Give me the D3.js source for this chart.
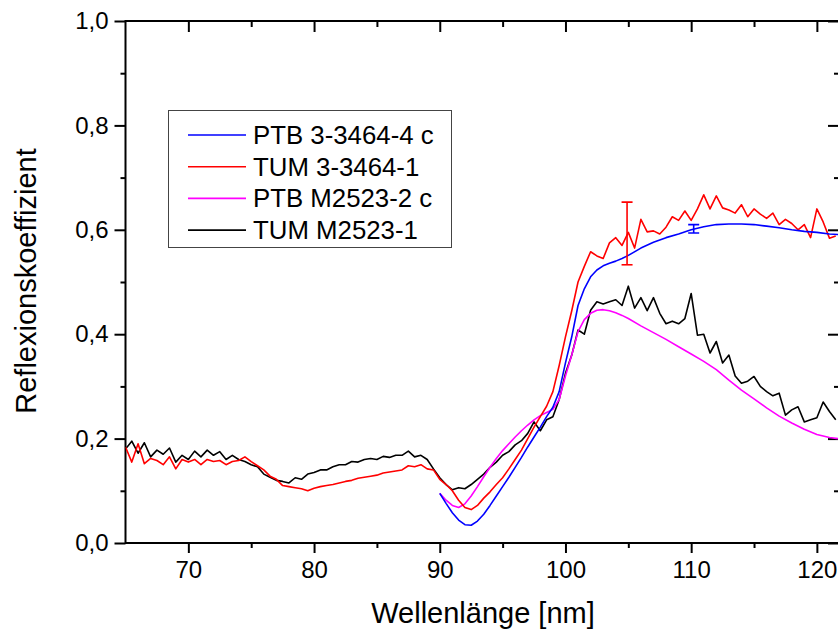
<!DOCTYPE html>
<html>
<head>
<meta charset="utf-8">
<script src="https://cdn.jsdelivr.net/npm/d3@7"></script>
<style>
  body { margin: 0; background: #fff; }
  svg { display: block; font-family: 'Liberation Sans', Arial, sans-serif; }
</style>
</head>
<body>
<div id="chart"></div>
<script>
// wavelength grid of the TUM measurements (nm)
var tumWl = [
  65, 65.5, 66, 66.5, 67, 67.5, 68, 68.5, 69, 69.5,
  70, 70.5, 71, 71.5, 72, 72.5, 73, 73.5, 74, 74.5,
  75, 75.5, 76, 76.5, 77, 77.5, 78, 78.5, 79, 79.5,
  80, 80.5, 81, 81.5, 82, 82.5, 83, 83.5, 84, 84.5,
  85, 85.5, 86, 86.5, 87, 87.5, 88, 88.5, 89, 89.5,
  90, 90.5, 91, 91.5, 92, 92.5, 93, 93.5, 94, 94.5,
  95, 95.5, 96, 96.5, 97, 97.5, 98, 98.5, 99, 99.5,
  100, 100.5, 101, 101.5, 102, 102.5, 103, 103.5, 104, 104.5,
  105, 105.5, 106, 106.5, 107, 107.5, 108, 108.5, 109, 109.5,
  110, 110.5, 111, 111.5, 112, 112.5, 113, 113.5, 114, 114.5,
  115, 115.5, 116, 116.5, 117, 117.5, 118, 118.5, 119, 119.5,
  120, 120.5, 121, 121.5
];

var tum3464 = [
  0.184, 0.155, 0.190, 0.152, 0.162, 0.158, 0.150, 0.165, 0.142, 0.160,
  0.155, 0.160, 0.150, 0.160, 0.156, 0.158, 0.150, 0.156, 0.158, 0.165,
  0.156, 0.148, 0.140, 0.128, 0.122, 0.110, 0.108, 0.106, 0.104, 0.100,
  0.105, 0.108, 0.110, 0.112, 0.115, 0.118, 0.120, 0.124, 0.126, 0.128,
  0.130, 0.134, 0.136, 0.138, 0.140, 0.148, 0.146, 0.150, 0.142, 0.140,
  0.122, 0.112, 0.100, 0.082, 0.068, 0.064, 0.072, 0.086, 0.098, 0.112,
  0.125, 0.142, 0.160, 0.178, 0.200, 0.222, 0.242, 0.262, 0.290, 0.340,
  0.395, 0.445, 0.500, 0.530, 0.558, 0.550, 0.545, 0.575, 0.585, 0.570,
  0.595, 0.565, 0.620, 0.596, 0.598, 0.592, 0.605, 0.625, 0.618, 0.636,
  0.618, 0.640, 0.667, 0.640, 0.665, 0.642, 0.638, 0.632, 0.648, 0.625,
  0.640, 0.630, 0.622, 0.632, 0.610, 0.620, 0.612, 0.600, 0.610, 0.585,
  0.640, 0.615, 0.584, 0.588
];

var tumM2523 = [
  0.180, 0.195, 0.172, 0.192, 0.165, 0.178, 0.170, 0.182, 0.155, 0.168,
  0.160, 0.176, 0.165, 0.178, 0.168, 0.175, 0.160, 0.168, 0.160, 0.156,
  0.150, 0.146, 0.132, 0.126, 0.120, 0.118, 0.115, 0.125, 0.122, 0.132,
  0.135, 0.140, 0.140, 0.146, 0.150, 0.150, 0.156, 0.155, 0.160, 0.162,
  0.160, 0.166, 0.164, 0.168, 0.168, 0.176, 0.165, 0.168, 0.160, 0.142,
  0.125, 0.112, 0.102, 0.106, 0.104, 0.112, 0.122, 0.132, 0.145, 0.155,
  0.168, 0.175, 0.188, 0.196, 0.210, 0.232, 0.215, 0.236, 0.242, 0.275,
  0.325, 0.360, 0.408, 0.400, 0.446, 0.462, 0.458, 0.462, 0.466, 0.455,
  0.492, 0.450, 0.470, 0.445, 0.470, 0.440, 0.420, 0.425, 0.420, 0.430,
  0.478, 0.398, 0.400, 0.364, 0.386, 0.345, 0.360, 0.320, 0.306, 0.310,
  0.319, 0.300, 0.290, 0.282, 0.287, 0.245, 0.255, 0.261, 0.232, 0.236,
  0.240, 0.270, 0.252, 0.236
];

// wavelength grid of the PTB measurements (nm)
var ptbWl = [
  90, 90.5, 91, 91.5, 92, 92.5, 93, 93.5, 94, 94.5,
  95, 95.5, 96, 96.5, 97, 97.5, 98, 98.5, 99, 99.5,
  100, 100.5, 101, 101.5, 102, 102.5, 103, 103.5, 104, 104.5,
  105, 106, 107, 108, 109, 110, 111, 112, 113, 114,
  115, 116, 117, 118, 119, 120, 121, 121.7
];

var ptb3464 = [
  0.095, 0.076, 0.058, 0.044, 0.035, 0.034, 0.042, 0.055, 0.072, 0.090,
  0.108, 0.126, 0.145, 0.164, 0.184, 0.203, 0.222, 0.242, 0.260, 0.290,
  0.345, 0.395, 0.455, 0.487, 0.510, 0.523, 0.531, 0.536, 0.540, 0.545,
  0.551, 0.565, 0.576, 0.585, 0.592, 0.600, 0.606, 0.610, 0.611, 0.611,
  0.610, 0.607, 0.604, 0.600, 0.597, 0.595, 0.592, 0.591
];

var ptbM2523 = [
  0.095, 0.082, 0.072, 0.068, 0.075, 0.090, 0.108, 0.127, 0.145, 0.162,
  0.177, 0.190, 0.203, 0.215, 0.226, 0.236, 0.244, 0.250, 0.256, 0.275,
  0.320, 0.360, 0.405, 0.428, 0.440, 0.446, 0.447, 0.445, 0.441, 0.436,
  0.430, 0.416, 0.403, 0.390, 0.376, 0.362, 0.348, 0.332, 0.312, 0.293,
  0.276, 0.259, 0.243, 0.230, 0.218, 0.208, 0.202, 0.200
];

// error bars: wavelength, value, half width
var errWl = [104.9, 110.2];
var errVal = [0.593, 0.602];
var errHalf = [0.060, 0.008];
var errColor = ['#ff0000', '#0000ff'];

var seriesNames = ['PTB 3-3464-4 c', 'TUM 3-3464-1', 'PTB M2523-2 c', 'TUM M2523-1'];
var seriesColors = ['#0000ff', '#ff0000', '#ff00ff', '#000000'];

var xTicks = [70, 80, 90, 100, 110, 120];
var xMinor = [75, 85, 95, 105, 115];
var yTicks = [0, 0.2, 0.4, 0.6, 0.8, 1.0];
var yMinor = [0.1, 0.3, 0.5, 0.7, 0.9];

var width = 838;
var height = 636;
var margin = { left: 125.5, right: 839, top: 21, bottom: 543 };

var svg = d3.select('#chart').append('svg')
    .attr('width', width)
    .attr('height', height);

var xScale = d3.scaleLinear().domain([65, 121.76]).range([margin.left, margin.right]);
var yScale = d3.scaleLinear().domain([0, 1]).range([margin.bottom, margin.top]);

svg.append('defs').append('clipPath')
    .attr('id', 'plotclip')
    .append('rect')
    .attr('x', margin.left).attr('y', margin.top)
    .attr('width', margin.right - margin.left).attr('height', margin.bottom - margin.top);

var fmt = function (d) { return d3.format('.1f')(d).replace('.', ','); };

// bottom axis (outward ticks)
svg.append('g')
    .attr('transform', `translate(0, ${margin.bottom})`)
    .call(d3.axisBottom(xScale).tickValues(xTicks).tickSize(10).tickPadding(8).tickFormat(d3.format('d')));
svg.append('g')
    .attr('transform', `translate(0, ${margin.bottom})`)
    .call(d3.axisBottom(xScale).tickValues(xMinor).tickSize(5).tickFormat(''));

// left axis
svg.append('g')
    .attr('transform', `translate(${margin.left}, 0)`)
    .call(d3.axisLeft(yScale).tickValues(yTicks).tickSize(11).tickPadding(6).tickFormat(fmt));
svg.append('g')
    .attr('transform', `translate(${margin.left}, 0)`)
    .call(d3.axisLeft(yScale).tickValues(yMinor).tickSize(5).tickFormat(''));

// top axis (inward ticks)
svg.append('g')
    .attr('transform', `translate(0, ${margin.top})`)
    .call(d3.axisTop(xScale).tickValues(xTicks).tickSize(-11).tickFormat(''));
svg.append('g')
    .attr('transform', `translate(0, ${margin.top})`)
    .call(d3.axisTop(xScale).tickValues(xMinor).tickSize(-6).tickFormat(''));

// right axis (inward ticks)
svg.append('g')
    .attr('transform', `translate(${margin.right}, 0)`)
    .call(d3.axisRight(yScale).tickValues(yTicks).tickSize(-11).tickFormat(''));
svg.append('g')
    .attr('transform', `translate(${margin.right}, 0)`)
    .call(d3.axisRight(yScale).tickValues(yMinor).tickSize(-5).tickFormat(''));

svg.selectAll('.tick line')
    .attr('stroke', '#000')
    .attr('stroke-width', 2);
svg.selectAll('.domain').remove();

svg.append('rect')
    .attr('x', margin.left).attr('y', margin.top)
    .attr('width', margin.right - margin.left).attr('height', margin.bottom - margin.top)
    .attr('fill', 'none')
    .attr('stroke', '#000')
    .attr('stroke-width', 2);

svg.selectAll('.tick text')
    .attr('fill', '#000')
    .style('font-size', '24px');

// axis titles
svg.append('text')
    .attr('x', 483)
    .attr('y', 623)
    .attr('text-anchor', 'middle')
    .style('font-size', '29px')
    .text('Wellenlänge [nm]');

svg.append('text')
    .attr('transform', `translate(36, 281) rotate(-90)`)
    .attr('text-anchor', 'middle')
    .style('font-size', '29px')
    .text('Reflexionskoeffizient');

// curves
var plot = svg.append('g').attr('clip-path', 'url(#plotclip)');

var curves = [
    { wl: ptbWl, val: ptb3464 },
    { wl: tumWl, val: tum3464 },
    { wl: ptbWl, val: ptbM2523 },
    { wl: tumWl, val: tumM2523 }
];

var line = d3.line()
    .x(d => xScale(d[0]))
    .y(d => yScale(d[1]));

// draw in reverse order so blue ends on top like the original
[3, 2, 1, 0].forEach(function (i) {
    var pts = curves[i].wl.map((w, j) => [w, curves[i].val[j]]);
    plot.append('path')
        .datum(pts)
        .attr('d', line)
        .attr('fill', 'none')
        .attr('stroke', seriesColors[i])
        .attr('stroke-width', 1.6)
        .attr('stroke-linejoin', 'round');
});

// error bars
errWl.forEach(function (w, i) {
    var g = plot.append('g')
        .attr('stroke', errColor[i])
        .attr('stroke-width', 1.6);
    var cx = xScale(w);
    var y1 = yScale(errVal[i] + errHalf[i]);
    var y2 = yScale(errVal[i] - errHalf[i]);
    g.append('line').attr('x1', cx).attr('x2', cx).attr('y1', y1).attr('y2', y2);
    g.append('line').attr('x1', cx - 5.5).attr('x2', cx + 5.5).attr('y1', y1).attr('y2', y1);
    g.append('line').attr('x1', cx - 5.5).attr('x2', cx + 5.5).attr('y1', y2).attr('y2', y2);
});

// legend
var legend = svg.append('g');
legend.append('rect')
    .attr('x', 168.5).attr('y', 110.5)
    .attr('width', 283).attr('height', 137)
    .attr('fill', '#fff')
    .attr('stroke', '#444')
    .attr('stroke-width', 1);

seriesNames.forEach(function (name, i) {
    var y = 135 + i * 31.7;
    legend.append('line')
        .attr('x1', 188).attr('x2', 246)
        .attr('y1', y).attr('y2', y)
        .attr('stroke', seriesColors[i])
        .attr('stroke-width', 1.6);
    legend.append('text')
        .attr('x', 253)
        .attr('y', y)
        .attr('dy', '0.35em')
        .style('font-size', '25.8px')
        .text(name);
});
</script>
</body>
</html>
